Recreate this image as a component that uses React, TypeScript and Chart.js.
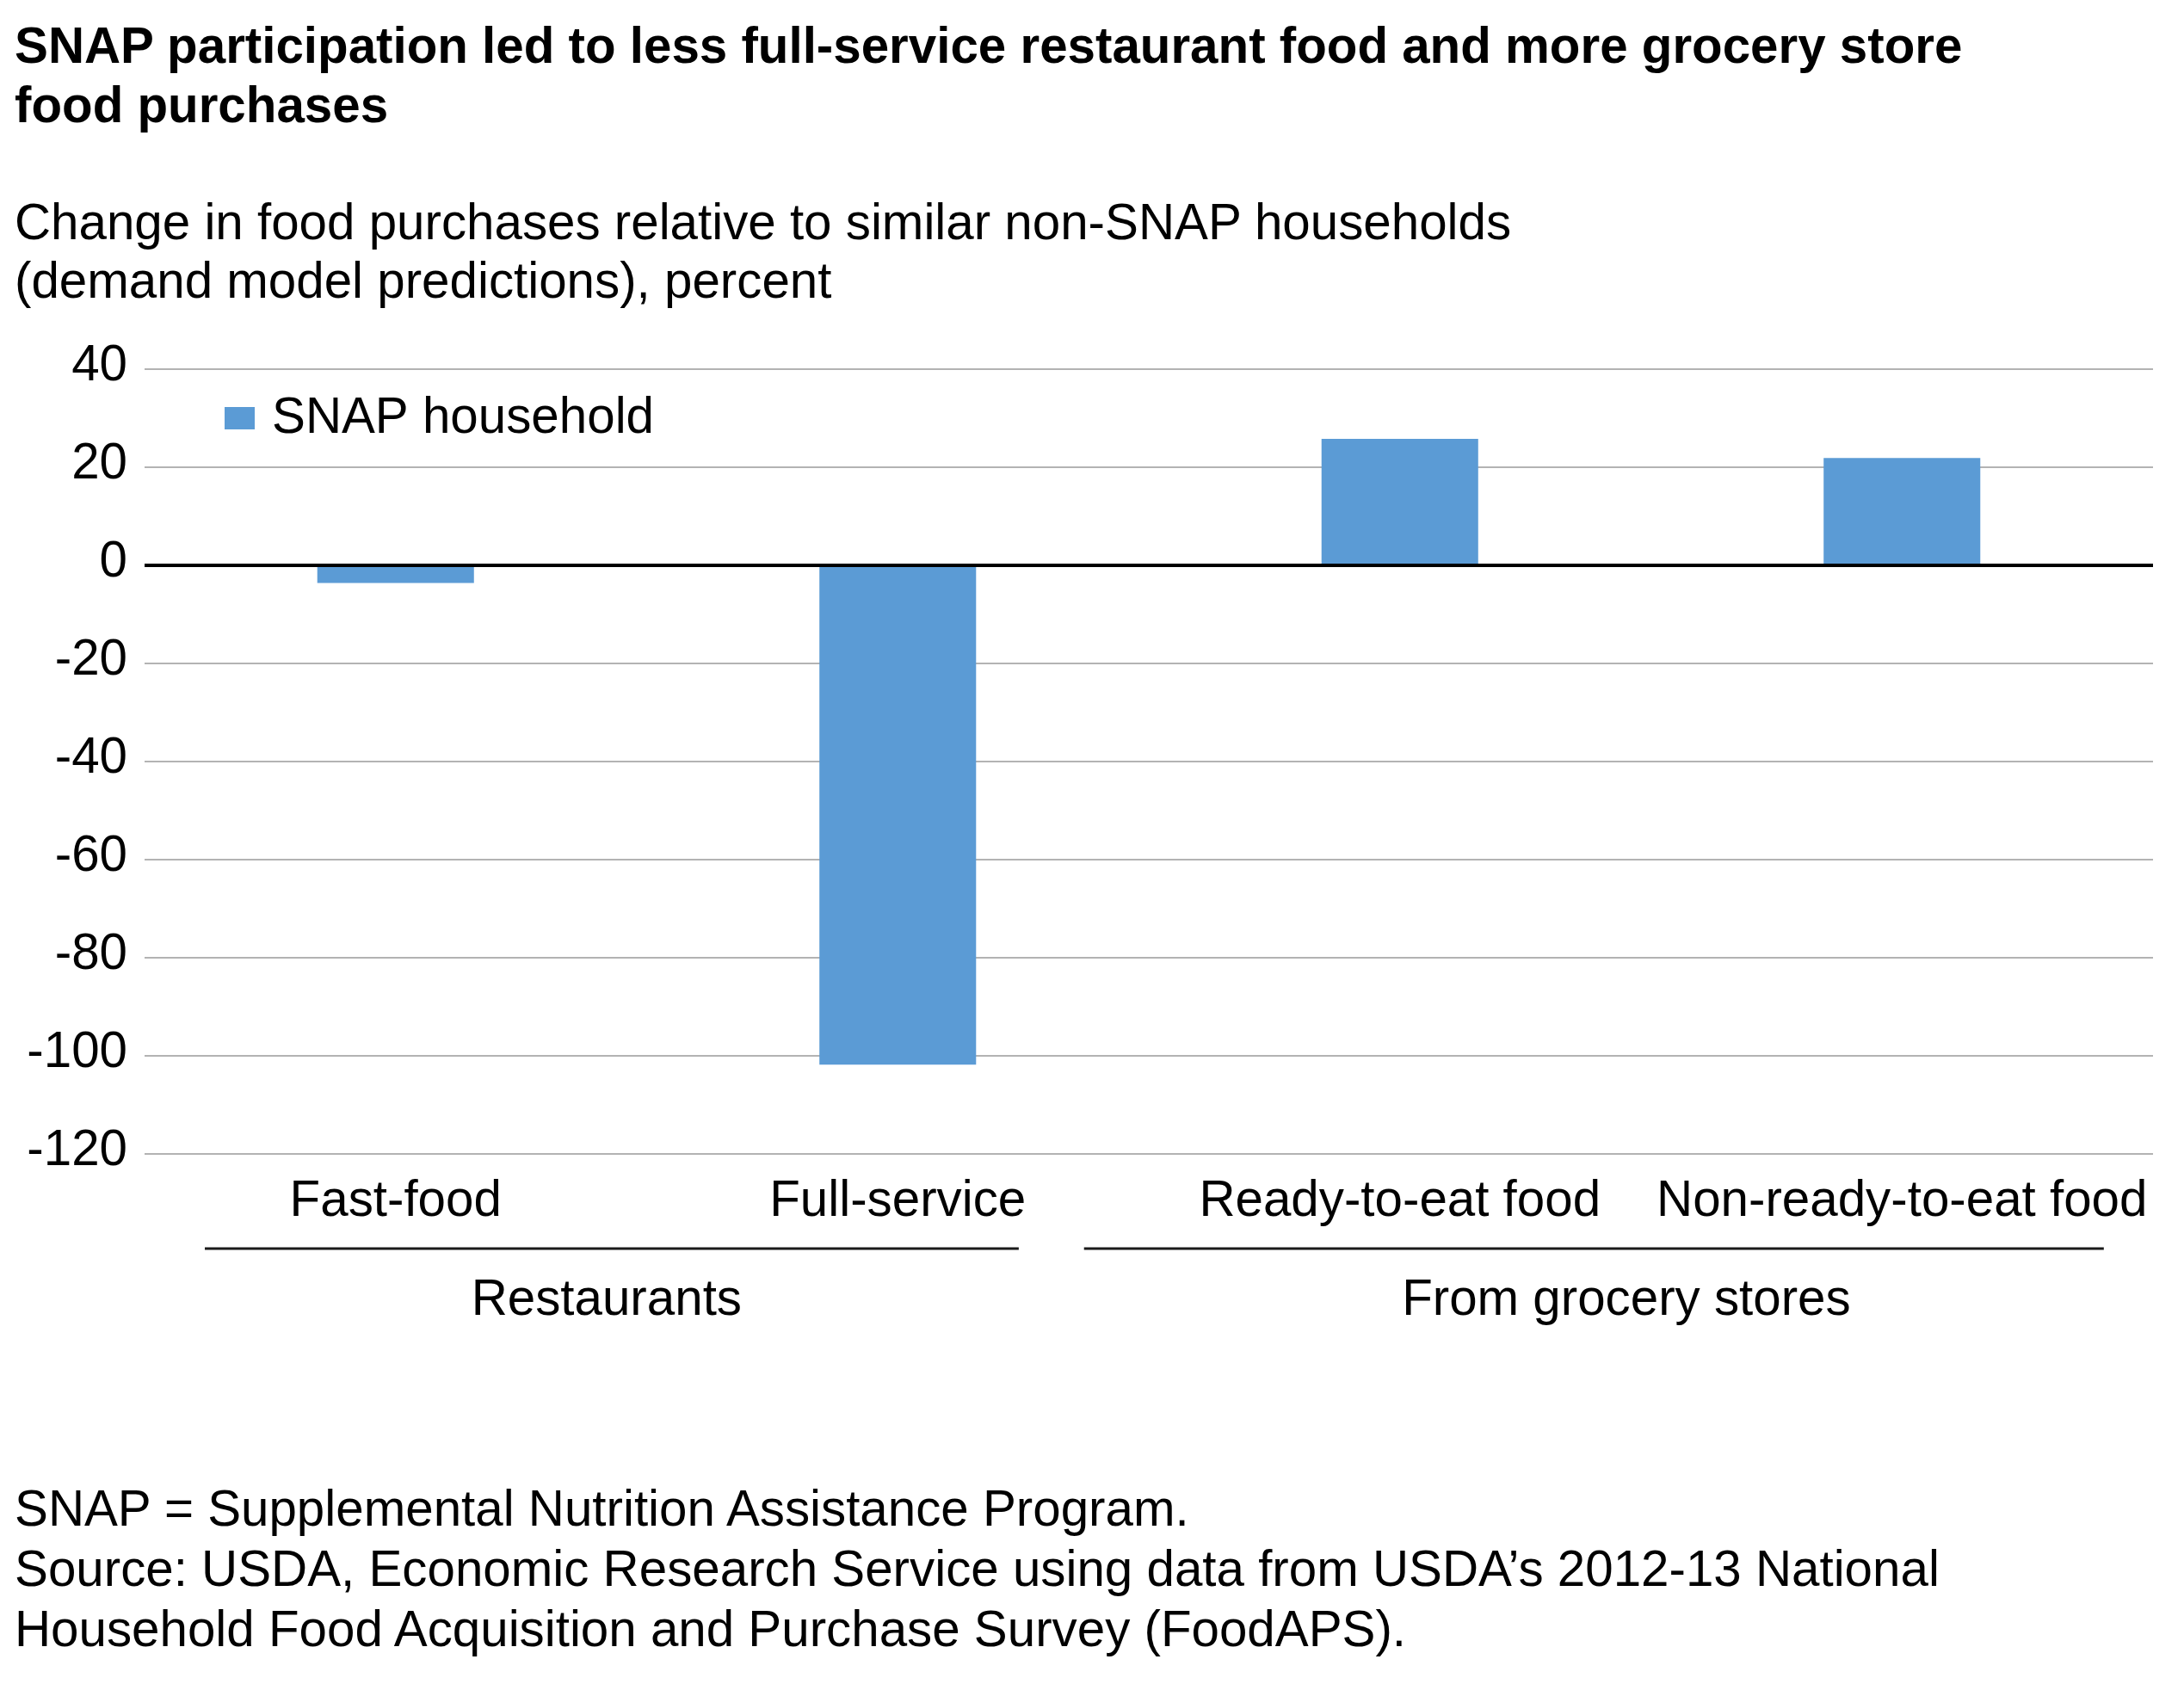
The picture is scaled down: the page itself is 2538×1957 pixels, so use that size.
import React, { useEffect, useRef } from "react";
import { Chart, registerables } from "chart.js";

Chart.register(...registerables);

const categories = ["Fast-food", "Full-service", "Ready-to-eat food", "Non-ready-to-eat food"];
const snapValues = [-3.6, -101.8, 25.8, 21.9];
const seriesLabel = "SNAP household";
const groupLabels = ["Restaurants", "From grocery stores"];
// group spans in category index units: [lineStart, lineEnd, labelCenter]
const groupSpans = [
  [-0.38, 1.241, 0.42],
  [1.371, 3.402, 2.451],
];
const yMin = -120;
const yMax = 40;
const yStep = 20;

const titleLines = [
  "SNAP participation led to less full-service restaurant food and more grocery store",
  "food purchases",
];
const subtitleLines = [
  "Change in food purchases relative to similar non-SNAP households",
  "(demand model predictions), percent",
];
const footerLines = [
  "SNAP = Supplemental Nutrition Assistance Program.",
  "Source: USDA, Economic Research Service using data from USDA\u2019s 2012-13 National",
  "Household Food Acquisition and Purchase Survey (FoodAPS).",
];

const FONT = "'Liberation Sans', Arial, Helvetica, sans-serif";
const FS = 58.3;
const BAR_COLOR = "#5b9bd5";

export default function App() {
  const canvasRef = useRef<HTMLCanvasElement | null>(null);

  useEffect(() => {
    const canvas = canvasRef.current;
    if (!canvas) return;

    const overlay = {
      id: "overlay",
      afterDatasetsDraw(chart: any) {
        const { ctx, chartArea, scales } = chart;
        const y0 = scales.y.getPixelForValue(0);
        ctx.save();
        ctx.strokeStyle = "#000000";
        ctx.lineWidth = 4;
        ctx.beginPath();
        ctx.moveTo(chartArea.left, y0);
        ctx.lineTo(chartArea.right, y0);
        ctx.stroke();
        ctx.restore();
      },
      afterDraw(chart: any) {
        const { ctx, chartArea, scales } = chart;
        ctx.save();
        // legend
        const bx = chartArea.left + 93;
        const by = chartArea.top + 44;
        ctx.fillStyle = BAR_COLOR;
        ctx.fillRect(bx, by, 35, 26);
        ctx.fillStyle = "#000000";
        ctx.font = `${FS}px ${FONT}`;
        ctx.textAlign = "left";
        ctx.textBaseline = "alphabetic";
        ctx.fillText(chart.data.datasets[0].label, bx + 55, by + 30);
        // group lines and labels
        const lineY = chartArea.bottom + 110;
        const labelY = chartArea.bottom + 187;
        ctx.strokeStyle = "#1a1a1a";
        ctx.lineWidth = 3;
        groupSpans.forEach((span, i) => {
          const x1 = scales.x.getPixelForValue(span[0]);
          const x2 = scales.x.getPixelForValue(span[1]);
          const xc = scales.x.getPixelForValue(span[2]);
          ctx.beginPath();
          ctx.moveTo(x1, lineY);
          ctx.lineTo(x2, lineY);
          ctx.stroke();
          ctx.textAlign = "center";
          ctx.fillText(groupLabels[i], xc, labelY);
        });
        ctx.restore();
      },
    };

    const chart = new Chart(canvas, {
      type: "bar",
      data: {
        labels: categories,
        datasets: [
          {
            label: seriesLabel,
            data: snapValues,
            backgroundColor: BAR_COLOR,
            borderWidth: 0,
            categoryPercentage: 1,
            barPercentage: 0.312,
          },
        ],
      },
      options: {
        responsive: false,
        animation: false,
        devicePixelRatio: 1,
        layout: { padding: { left: 0, top: 429, right: 36, bottom: 516 } },
        plugins: {
          legend: { display: false },
          title: { display: false },
          tooltip: { enabled: false },
        },
        scales: {
          x: {
            grid: { display: false },
            border: { display: false },
            ticks: {
              color: "#000000",
              font: { family: FONT, size: FS },
              padding: 13,
              maxRotation: 0,
              autoSkip: false,
            },
            afterFit(scale: any) {
              scale.height = 100;
            },
          },
          y: {
            min: yMin,
            max: yMax,
            grid: {
              color: "#b3b3b3",
              lineWidth: 2,
              drawTicks: false,
            },
            border: { display: false },
            ticks: {
              stepSize: yStep,
              color: "#000000",
              font: { family: FONT, size: FS },
              padding: 20,
              labelOffset: -3,
              callback: (v: any) => String(v),
            },
            afterFit(scale: any) {
              scale.width = 168;
            },
          },
        },
      },
      plugins: [overlay],
    });

    return () => chart.destroy();
  }, []);

  const textStyle: React.CSSProperties = {
    position: "absolute",
    left: 17,
    margin: 0,
    fontFamily: FONT,
    fontSize: FS,
    color: "#000",
    whiteSpace: "nowrap",
  };

  return (
    <div style={{ position: "absolute", left: 0, top: 0, width: 2538, height: 1957, background: "#fff", overflow: "hidden" }}>
      <canvas ref={canvasRef} width={2538} height={1957} style={{ position: "absolute", left: 0, top: 0, width: 2538, height: 1957 }} />
      <div style={{ ...textStyle, top: 18, fontWeight: "bold", lineHeight: "69px" }}>
        {titleLines.map((l, i) => (
          <div key={i}>{l}</div>
        ))}
      </div>
      <div style={{ ...textStyle, top: 224, lineHeight: "68px" }}>
        {subtitleLines.map((l, i) => (
          <div key={i}>{l}</div>
        ))}
      </div>
      <div style={{ ...textStyle, top: 1718, lineHeight: "70px" }}>
        {footerLines.map((l, i) => (
          <div key={i}>{l}</div>
        ))}
      </div>
    </div>
  );
}
